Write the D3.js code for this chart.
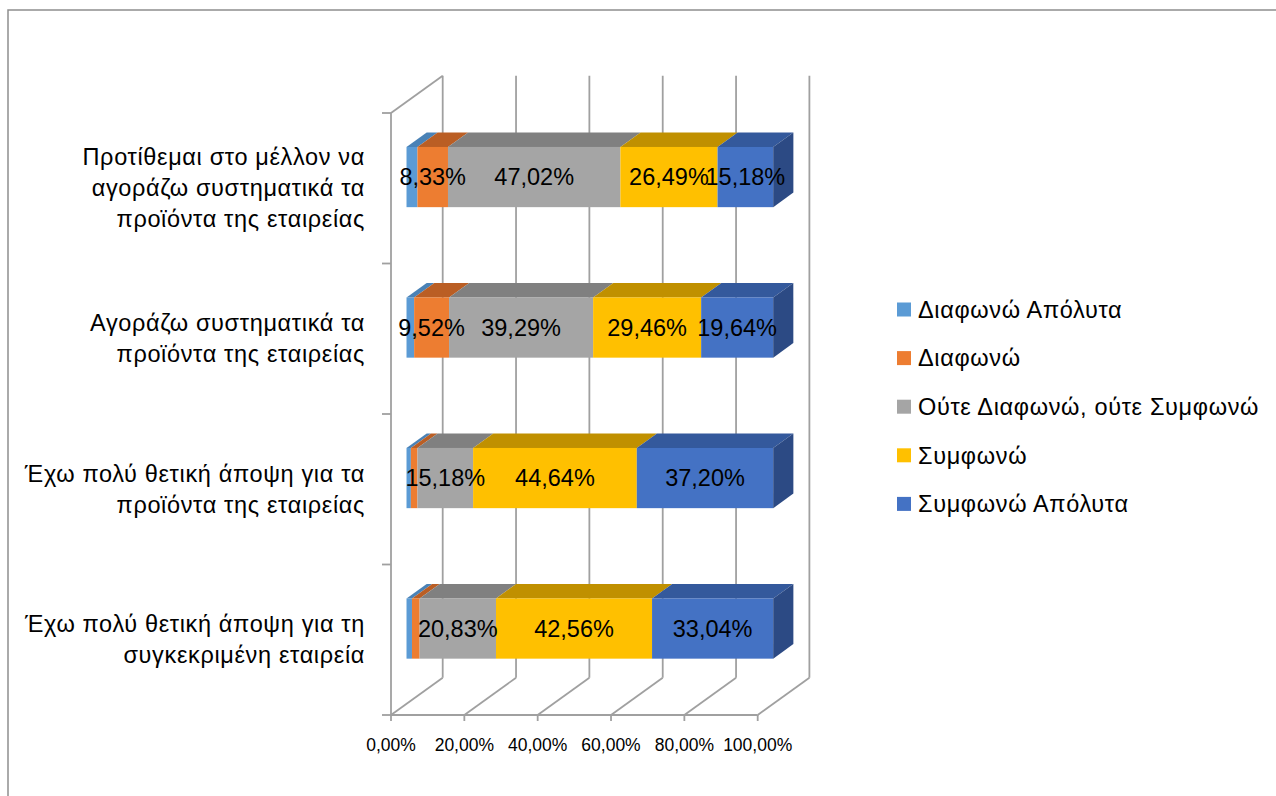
<!DOCTYPE html>
<html>
<head>
<meta charset="utf-8">
<script src="https://cdn.jsdelivr.net/npm/d3@7"></script>
<style>
  html, body { margin: 0; padding: 0; background: #fff; }
  svg { display: block; }
  text { font-family: "Liberation Sans", Arial, sans-serif; fill: #000; }
</style>
</head>
<body>
<svg id="chart" width="1276" height="796"></svg>
<script>
// Survey questions (top to bottom), with manual line breaks
const categories = [
  "Προτίθεμαι στο μέλλον να\nαγοράζω συστηματικά τα\nπροϊόντα της εταιρείας",
  "Αγοράζω συστηματικά τα\nπροϊόντα της εταιρείας",
  "Έχω πολύ θετική άποψη για τα\nπροϊόντα της εταιρείας",
  "Έχω πολύ θετική άποψη για τη\nσυγκεκριμένη εταιρεία"
];

const seriesNames = [
  "Διαφωνώ Απόλυτα",
  "Διαφωνώ",
  "Ούτε Διαφωνώ, ούτε Συμφωνώ",
  "Συμφωνώ",
  "Συμφωνώ Απόλυτα"
];

// Percentages per question, in category order
const disagreeStrongly = [2.98, 2.08, 1.19, 1.49];
const disagree         = [8.33, 9.52, 1.79, 2.08];
const neutral          = [47.02, 39.29, 15.18, 20.83];
const agree            = [26.49, 29.46, 44.64, 42.56];
const agreeStrongly    = [15.18, 19.64, 37.20, 33.04];

const xTicks = [0, 20, 40, 60, 80, 100];

const frontColors = ["#5B9BD5", "#ED7D31", "#A5A5A5", "#FFC000", "#4472C4"];
const topColors   = ["#4A82B6", "#BA5E24", "#808080", "#C09000", "#34599C"];
const sideColor   = "#2C4A84";

const seriesValues = [disagreeStrongly, disagree, neutral, agree, agreeStrongly];
const rows = categories.map((c, i) => {
  const r = { category: c };
  seriesNames.forEach((s, k) => { r[s] = seriesValues[k][i]; });
  return r;
});
const stacked = d3.stack().keys(seriesNames)(rows);

const svg = d3.select("#chart");

// outer frame
svg.append("path")
  .attr("d", "M8,796 L8,10 L1276,10")
  .attr("fill", "none").attr("stroke", "#8f8f8f").attr("stroke-width", 1.5);

// front plane geometry
const x = d3.scaleLinear().domain([0, 100]).range([391, 757.7]);
const y = d3.scaleBand().domain(categories).range([113, 715])
  .paddingInner(0.6).paddingOuter(0.3);
const y0 = 113, y1 = 715;

// depth (oblique projection)
const DX = 51.7, DY = -37.3;
const zFront = 0.3, zBack = 0.69;
const off = z => [DX * z, DY * z];

const grid = svg.append("g").attr("fill", "none")
  .attr("stroke", "#a0a0a0").attr("stroke-width", 1.8);

// back wall verticals
xTicks.forEach(t => {
  grid.append("line")
    .attr("x1", x(t) + DX).attr("x2", x(t) + DX)
    .attr("y1", y0 + DY).attr("y2", y1 + DY);
});
// floor diagonals
xTicks.forEach(t => {
  grid.append("line")
    .attr("x1", x(t)).attr("y1", y1)
    .attr("x2", x(t) + DX).attr("y2", y1 + DY);
});
// side wall: front vertical and top edge
grid.append("line").attr("x1", x(0)).attr("x2", x(0)).attr("y1", y0).attr("y2", y1);
grid.append("line").attr("x1", x(0)).attr("y1", y0).attr("x2", x(0) + DX).attr("y2", y0 + DY);
// front baseline
grid.append("line").attr("x1", x(0)).attr("x2", x(100)).attr("y1", y1).attr("y2", y1);
// x ticks
xTicks.forEach(t => {
  grid.append("line").attr("x1", x(t)).attr("x2", x(t)).attr("y1", y1).attr("y2", y1 + 6);
});
// category ticks
const bounds = [y0].concat(categories.map(c => y(c) - y.step() * y.paddingInner() / 2 + y.step()));
bounds.forEach(b => {
  grid.append("line").attr("x1", x(0) - 9).attr("x2", x(0)).attr("y1", b).attr("y2", b);
});

// x tick labels
svg.append("g").selectAll("text").data(xTicks).join("text")
  .attr("x", d => x(d)).attr("y", 751)
  .attr("text-anchor", "middle")
  .style("font-size", "17.5px")
  .text(d => d3.format(".2f")(d).replace(".", ",") + "%");

// category labels
const lineH = 31;
categories.forEach(c => {
  const lines = c.split("\n");
  const cy = y(c) + y.bandwidth() / 2;
  const t = svg.append("text")
    .attr("text-anchor", "end")
    .style("font-size", "23.5px")
    .style("letter-spacing", "0.65px");
  lines.forEach((ln, i) => {
    t.append("tspan")
      .attr("x", 365)
      .attr("y", cy + (i - (lines.length - 1) / 2) * lineH)
      .attr("dy", "0.35em")
      .text(ln);
  });
});

// 3D bars
const [fx, fy] = off(zFront);
const [bx, by] = off(zBack);
const ddx = bx - fx, ddy = by - fy;
const bars = svg.append("g");
stacked.forEach((layer, k) => {
  layer.forEach((seg, i) => {
    const cat = categories[i];
    const xl = x(seg[0]) + fx, xr = x(seg[1]) + fx;
    const yt = y(cat) + fy, yb = y(cat) + y.bandwidth() + fy;
    // top face
    bars.append("path")
      .attr("d", `M${xl},${yt} L${xl + ddx},${yt + ddy} L${xr + ddx},${yt + ddy} L${xr},${yt} Z`)
      .attr("fill", topColors[k]);
    // front face
    bars.append("rect")
      .attr("x", xl).attr("y", yt)
      .attr("width", Math.max(0, xr - xl)).attr("height", yb - yt)
      .attr("fill", frontColors[k]);
    // right side on the outermost segment
    if (k === stacked.length - 1) {
      bars.append("path")
        .attr("d", `M${xr},${yt} L${xr + ddx},${yt + ddy} L${xr + ddx},${yb + ddy} L${xr},${yb} Z`)
        .attr("fill", sideColor);
    }
  });
});

// value labels on segments wide enough to hold them
const labels = svg.append("g");
stacked.forEach((layer, k) => {
  layer.forEach((seg, i) => {
    const v = seg.data[seriesNames[k]];
    if (v < 5) return;
    const cat = categories[i];
    labels.append("text")
      .attr("x", (x(seg[0]) + x(seg[1])) / 2 + fx)
      .attr("y", y(cat) + y.bandwidth() / 2 + fy)
      .attr("dy", "0.35em")
      .attr("text-anchor", "middle")
      .style("font-size", "23.5px")
      .text(v.toFixed(2).replace(".", ",") + "%");
  });
});

// legend
const legend = svg.append("g");
seriesNames.forEach((s, k) => {
  const cy = 309.5 + k * 48.6;
  legend.append("rect")
    .attr("x", 897).attr("y", cy - 7).attr("width", 14).attr("height", 14)
    .attr("fill", frontColors[k]);
  legend.append("text")
    .attr("x", 918).attr("y", cy).attr("dy", "0.35em")
    .style("font-size", "23.5px")
    .style("letter-spacing", "0.65px")
    .text(s);
});
</script>
</body>
</html>
